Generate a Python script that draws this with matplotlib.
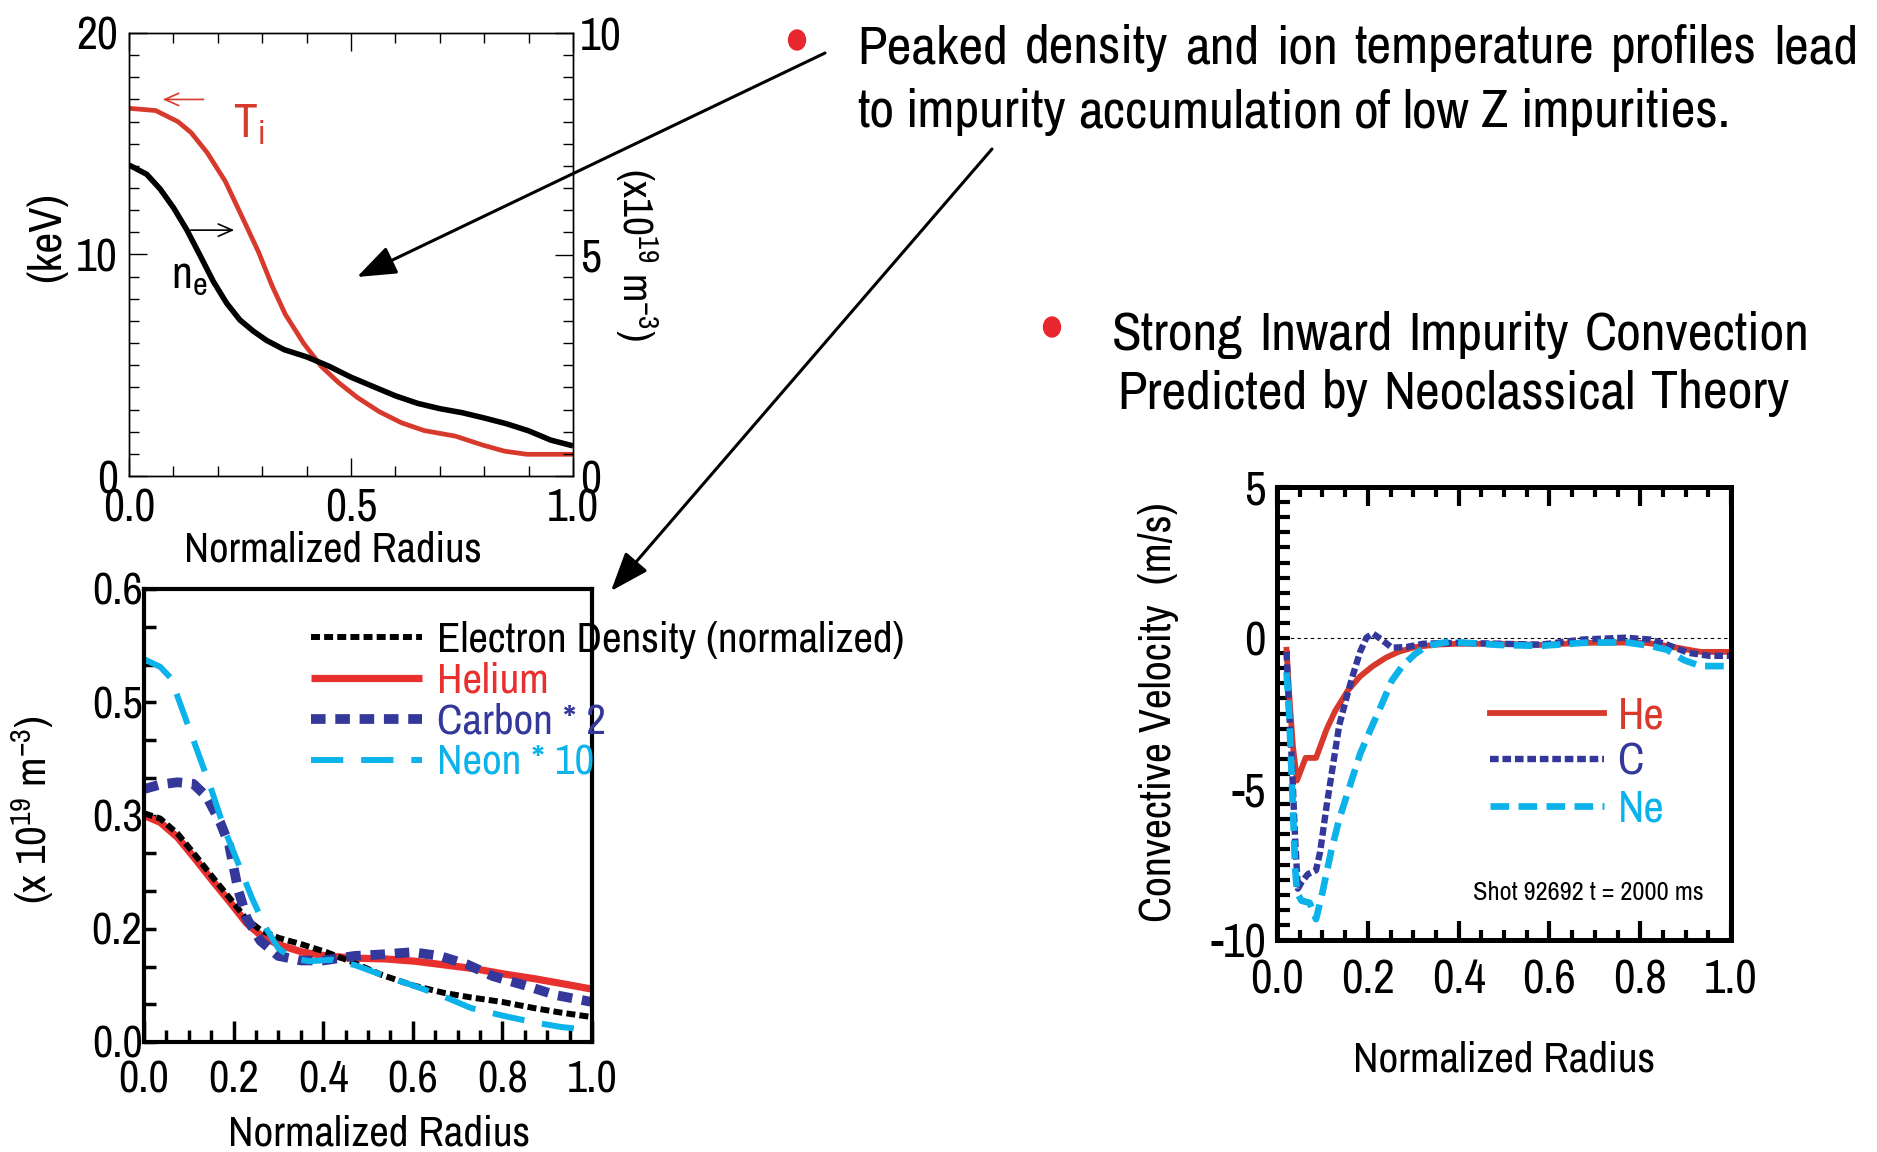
"""
Impurity profiles and neoclassical convection, shot 92692
"""
import matplotlib
matplotlib.use('Agg')
from matplotlib import pyplot as plt, ticker
from matplotlib.patches import Ellipse
from matplotlib.transforms import IdentityTransform

plt.rcParams['font.family'] = ['Archivo Narrow', 'Liberation Sans', 'DejaVu Sans']
plt.rcParams['axes.unicode_minus'] = False
plt.rcParams['mathtext.default'] = 'regular'

# ion temperature (keV) and electron density (1e19 m^-3) vs radius
r_ti = [0.0, 0.06, 0.11, 0.14, 0.176, 0.217, 0.257, 0.292, 0.322, 0.352, 0.393, 0.433,
        0.473, 0.514, 0.564, 0.614, 0.665, 0.735, 0.796, 0.846, 0.896, 1.0]
ti = [16.6, 16.5, 16.0, 15.5, 14.6, 13.3, 11.6, 10.1, 8.6, 7.3, 6.0, 4.95,
      4.2, 3.55, 2.9, 2.4, 2.05, 1.8, 1.4, 1.12, 0.98, 0.98]
r_ne = [0.0, 0.04, 0.07, 0.10, 0.13, 0.16, 0.19, 0.22, 0.25, 0.28, 0.31, 0.35, 0.40,
        0.45, 0.50, 0.55, 0.60, 0.65, 0.70, 0.75, 0.80, 0.85, 0.90, 0.95, 1.0]
ne = [7.02, 6.81, 6.48, 6.06, 5.56, 4.98, 4.39, 3.90, 3.52, 3.27, 3.06, 2.85, 2.69,
      2.48, 2.23, 2.02, 1.81, 1.64, 1.52, 1.43, 1.31, 1.18, 1.02, 0.81, 0.68]

# impurity densities (1e19 m^-3)
r_he = [0.0, 0.036, 0.075, 0.115, 0.155, 0.195, 0.228, 0.261, 0.30, 0.354, 0.407,
        0.473, 0.539, 0.605, 0.672, 0.738, 0.804, 0.870, 0.936, 1.0]
n_he = [0.300, 0.291, 0.271, 0.242, 0.212, 0.183, 0.158, 0.141, 0.129, 0.119, 0.114,
        0.111, 0.110, 0.107, 0.102, 0.097, 0.090, 0.084, 0.077, 0.070]
r_el = [0.0, 0.036, 0.075, 0.115, 0.155, 0.195, 0.228, 0.261, 0.30, 0.354, 0.407,
        0.46, 0.53, 0.60, 0.67, 0.73, 0.80, 0.87, 0.93, 1.0]
n_el = [0.303, 0.296, 0.276, 0.247, 0.217, 0.188, 0.163, 0.148, 0.138, 0.129, 0.119,
        0.107, 0.089, 0.075, 0.065, 0.059, 0.053, 0.045, 0.039, 0.033]
r_c = [0.0, 0.036, 0.075, 0.11, 0.14, 0.17, 0.19, 0.21, 0.23, 0.26, 0.30, 0.35, 0.40,
       0.47, 0.53, 0.60, 0.66, 0.72, 0.78, 0.85, 0.92, 1.0]
n_c = [0.335, 0.341, 0.344, 0.342, 0.325, 0.291, 0.261, 0.202, 0.163, 0.134, 0.114,
       0.108, 0.108, 0.114, 0.116, 0.119, 0.114, 0.103, 0.087, 0.075, 0.062, 0.053]
r_neon = [0.0, 0.036, 0.06, 0.09, 0.12, 0.15, 0.18, 0.21, 0.24, 0.27, 0.30, 0.33, 0.37,
          0.42, 0.47, 0.53, 0.60, 0.67, 0.73, 0.80, 0.87, 0.93, 0.99]
n_neon = [0.507, 0.497, 0.482, 0.433, 0.384, 0.335, 0.281, 0.237, 0.192, 0.153, 0.124,
          0.111, 0.107, 0.109, 0.102, 0.089, 0.075, 0.060, 0.045, 0.035, 0.026, 0.020, 0.016]
dens_ticks = [0.0, 0.15, 0.30, 0.45, 0.60]
dens_tick_labels = ['0.0', '0.2', '0.3', '0.5', '0.6']

# convective velocity (m/s)
rv_he = [0.021, 0.026, 0.035, 0.044, 0.063, 0.086, 0.109, 0.128, 0.156, 0.183, 0.211,
         0.239, 0.267, 0.304, 0.35, 0.396, 0.489, 0.581, 0.674, 0.767, 0.813, 0.859,
         0.906, 0.933, 1.0]
v_he = [-0.39, -1.68, -3.57, -4.72, -3.97, -3.97, -3.03, -2.42, -1.74, -1.27, -0.93,
        -0.66, -0.46, -0.30, -0.22, -0.19, -0.19, -0.23, -0.16, -0.15, -0.16, -0.26,
        -0.39, -0.46, -0.46]
rv_c = [0.021, 0.026, 0.031, 0.035, 0.04, 0.046, 0.054, 0.068, 0.086, 0.095, 0.109,
        0.123, 0.137, 0.156, 0.169, 0.183, 0.197, 0.211, 0.23, 0.253, 0.285, 0.322,
        0.396, 0.489, 0.581, 0.674, 0.767, 0.822, 0.859, 0.906, 0.952, 1.0]
v_c = [-0.46, -2.22, -3.57, -4.92, -6.68, -8.30, -8.09, -7.82, -7.69, -7.08, -5.59,
       -4.24, -2.89, -1.81, -1.14, -0.46, 0.01, 0.15, -0.05, -0.32, -0.30, -0.19,
       -0.16, -0.19, -0.22, -0.05, 0.01, -0.05, -0.22, -0.49, -0.59, -0.59]
rv_ne = [0.021, 0.026, 0.035, 0.04, 0.044, 0.054, 0.072, 0.086, 0.10, 0.119, 0.137,
         0.16, 0.183, 0.206, 0.23, 0.253, 0.276, 0.304, 0.331, 0.378, 0.415, 0.489,
         0.581, 0.674, 0.767, 0.822, 0.859, 0.896, 0.933, 1.0]
v_ne = [-1.14, -2.22, -5.59, -7.62, -8.43, -8.70, -8.77, -9.31, -8.43, -7.08, -6.0,
        -4.92, -3.84, -3.03, -2.22, -1.41, -0.93, -0.53, -0.26, -0.12, -0.16, -0.23,
        -0.26, -0.16, -0.14, -0.26, -0.39, -0.73, -0.93, -0.93]

W, H = 1877, 1152
RED = '#d73a2c'
HE_RED = '#e8302f'
NAVY = '#33389a'
CYAN = '#0cb2ea'
BULLET = '#e8262e'

fig = plt.figure(figsize=(W / 100, H / 100), dpi=100)


def box(left, top, right, bottom):
    return [left / W, 1 - bottom / H, (right - left) / W, (bottom - top) / H]


def justified(x0, x1, y, line, **kw):
    # spread the words of one line between x0 and x1 (pixels from top-left)
    words = line.split()
    texts = [fig.text(0, 1 - y / H, w, va='baseline', ha='left', **kw) for w in words]
    rend = fig.canvas.get_renderer()
    widths = [t.get_window_extent(rend).width for t in texts]
    gap = (x1 - x0 - sum(widths)) / (len(words) - 1)
    x = x0
    for t, w in zip(texts, widths):
        t.set_x(x / W)
        x += w + gap


# --- temperature / density profiles ---
ax1 = fig.add_axes(box(129, 33, 573, 476))
ax1r = ax1.twinx()
ax1.plot(r_ti, ti, color=RED, lw=3.4, solid_capstyle='butt')
ax1r.plot(r_ne, ne, color='black', lw=4.0, solid_capstyle='butt')
ax1.set_xlim(0, 1)
ax1.set_ylim(0, 20)
ax1r.set_ylim(0, 10)
ax1.set_xticks([0, 0.5, 1.0])
ax1.xaxis.set_major_formatter(ticker.FormatStrFormatter('%.1f'))
ax1.xaxis.set_minor_locator(ticker.MultipleLocator(0.1))
ax1.set_yticks([0, 10, 20])
ax1.yaxis.set_minor_locator(ticker.MultipleLocator(1))
ax1r.set_yticks([0, 5, 10])
ax1r.yaxis.set_minor_locator(ticker.MultipleLocator(0.5))
ax1.tick_params(which='both', direction='in', top=True, right=False, width=1, labelsize=33)
ax1.tick_params(which='major', length=13, pad=8)
ax1.tick_params(which='minor', length=7)
ax1r.tick_params(which='both', direction='in', width=1, labelsize=33)
ax1r.tick_params(which='major', length=13, pad=5)
ax1r.tick_params(which='minor', length=7)
for sp in list(ax1.spines.values()) + list(ax1r.spines.values()):
    sp.set_linewidth(1)
ax1.set_xlabel('Normalized Radius', fontsize=30.5)
ax1.xaxis.set_label_coords(0.459, -0.124)
ax1.set_ylabel('(keV)', fontsize=33)
ax1.yaxis.set_label_coords(-0.137, 0.54)
ax1r.set_ylabel('(x10$^{19}$ m$^{-3}$)', fontsize=30, rotation=270, labelpad=28)
ax1.annotate('', xy=(0.076, 17.0), xytext=(0.168, 17.0),
             arrowprops=dict(arrowstyle='->,head_length=0.5,head_width=0.22', color=RED,
                             lw=1.2, shrinkA=0, shrinkB=0, mutation_scale=20))
ax1.annotate('', xy=(0.237, 11.1), xytext=(0.139, 11.1),
             arrowprops=dict(arrowstyle='->,head_length=0.5,head_width=0.22', color='black',
                             lw=1.2, shrinkA=0, shrinkB=0, mutation_scale=20))
ax1.text(0.235, 15.3, 'T$_i$', color=RED, fontsize=34)
ax1.text(0.095, 8.5, 'n$_e$', color='black', fontsize=33)

# --- impurity density profiles ---
ax2 = fig.add_axes(box(144, 589, 592, 1042))
h_he, = ax2.plot(r_he, n_he, color=HE_RED, lw=5.2, solid_capstyle='butt', label='Helium')
h_el, = ax2.plot(r_el, n_el, color='black', lw=4.3, ls=(0, (1.5, 0.7)),
                 label='Electron Density (normalized)')
h_c, = ax2.plot(r_c, n_c, color=NAVY, lw=7, ls=(0, (1.5, 1.0)), label='Carbon * 2')
h_ne, = ax2.plot(r_neon, n_neon, color=CYAN, lw=4.3, ls=(0, (5.4, 3.0)), label='Neon * 10')
ax2.set_xlim(0, 1)
ax2.set_ylim(0, 0.6)
ax2.xaxis.set_major_locator(ticker.MultipleLocator(0.2))
ax2.xaxis.set_major_formatter(ticker.FormatStrFormatter('%.1f'))
ax2.xaxis.set_minor_locator(ticker.MultipleLocator(0.05))
ax2.set_yticks(dens_ticks)
ax2.set_yticklabels(dens_tick_labels)
ax2.yaxis.set_minor_locator(ticker.MultipleLocator(0.05))
ax2.tick_params(which='both', direction='in', width=2.5, labelsize=32)
ax2.tick_params(axis='x', which='major', length=15, pad=13)
ax2.tick_params(axis='x', which='minor', length=8.5)
ax2.tick_params(axis='y', which='both', length=8.5, pad=1)
for sp in ax2.spines.values():
    sp.set_linewidth(3)
ax2.set_xlabel('Normalized Radius', fontsize=31)
ax2.xaxis.set_label_coords(0.524, -0.159)
ax2.set_ylabel('(x 10$^{19}$ m$^{-3}$)', fontsize=31)
ax2.yaxis.set_label_coords(-0.196, 0.512)
ax2.legend(handles=[h_el, h_he, h_c, h_ne], loc='upper left', bbox_to_anchor=(0.373, 0.93),
           frameon=False, fontsize=31, handlelength=2.58, handletextpad=0.35,
           labelspacing=0.07, borderpad=0, borderaxespad=0, labelcolor='linecolor')

# --- convective velocity ---
ax3 = fig.add_axes(box(1277, 487, 1731, 940))
ax3.axhline(0, color='black', lw=0.8, ls=(0, (3, 3)), zorder=1)
h_vhe, = ax3.plot(rv_he, v_he, color=RED, lw=4.2, label='He')
h_vc, = ax3.plot(rv_c, v_c, color=NAVY, lw=4.6, ls=(0, (1.35, 0.6)), label='C')
h_vne, = ax3.plot(rv_ne, v_ne, color=CYAN, lw=4.8, ls=(0, (2.8, 1.4)), label='Ne')
ax3.set_xlim(0, 1)
ax3.set_ylim(-10, 5)
ax3.xaxis.set_major_locator(ticker.MultipleLocator(0.2))
ax3.xaxis.set_major_formatter(ticker.FormatStrFormatter('%.1f'))
ax3.xaxis.set_minor_locator(ticker.MultipleLocator(0.05))
ax3.yaxis.set_major_locator(ticker.MultipleLocator(5))
ax3.yaxis.set_minor_locator(ticker.MultipleLocator(0.5))
ax3.tick_params(which='both', direction='in', top=True, width=3, labelsize=34)
ax3.tick_params(axis='x', which='major', length=14, pad=13)
ax3.tick_params(axis='x', which='minor', length=7.5)
ax3.tick_params(axis='y', which='both', length=9, pad=8)
for sp in ax3.spines.values():
    sp.set_linewidth(3.6)
ax3.set_xlabel('Normalized Radius', fontsize=31)
ax3.xaxis.set_label_coords(0.5, -0.221)
ax3.set_ylabel('Convective Velocity  (m/s)', fontsize=31.5)
ax3.yaxis.set_label_coords(-0.216, 0.503)
ax3.legend(handles=[h_vhe, h_vc, h_vne], loc='upper left', bbox_to_anchor=(0.469, 0.537),
           frameon=False, fontsize=32, handlelength=2.57, handletextpad=0.3,
           labelspacing=0.14, borderpad=0, borderaxespad=0, labelcolor='linecolor')
ax3.text(0.432, -8.68, 'Shot 92692 t = 2000 ms', fontsize=19, va='baseline')

# --- bullet text and pointers ---
txt = dict(fontsize=39, color='black')
justified(857, 1858, 63, 'Peaked density and ion temperature profiles lead', **txt)
justified(857, 1730, 127, 'to impurity accumulation of low Z impurities.', **txt)
justified(1112, 1810, 350, 'Strong Inward Impurity Convection', **txt)
justified(1117, 1789, 408, 'Predicted by Neoclassical Theory', **txt)
for bx, by in [(797, 40), (1052, 327)]:
    fig.add_artist(Ellipse((bx, H - by), 17, 20, color=BULLET, transform=IdentityTransform()))

arrow = dict(arrowstyle='-|>,head_length=24,head_width=9', color='black', lw=2.2,
             shrinkA=0, shrinkB=0, mutation_scale=1)
ax1.annotate('', xy=(357, H - 277), xycoords='figure pixels', xytext=(825, H - 53),
             textcoords='figure pixels', arrowprops=arrow, annotation_clip=False)
ax1.annotate('', xy=(611, H - 591), xycoords='figure pixels', xytext=(992, H - 149),
             textcoords='figure pixels', arrowprops=arrow, annotation_clip=False)

plt.savefig('out.png', dpi=100)
